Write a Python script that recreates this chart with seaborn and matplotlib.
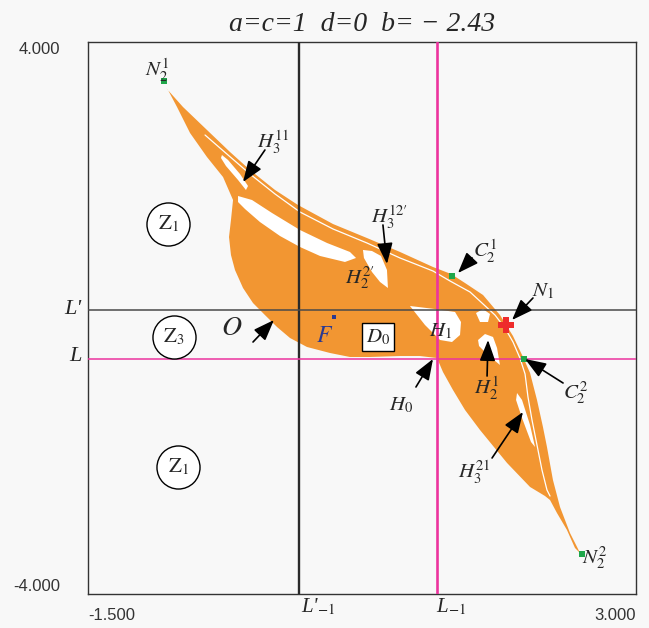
import matplotlib
matplotlib.use("Agg")
import matplotlib.pyplot as plt
import matplotlib.transforms as mtransforms
import seaborn as sns

# ---- basin of the attractor: outer boundary and its holes (x, y) ----
basin_outline = [
    (-0.859, 3.333), (-0.720, 3.058), (-0.523, 2.725), (-0.334, 2.406),
    (-0.170, 2.145), (0.036, 1.855), (0.224, 1.638), (0.512, 1.362),
    (0.791, 1.159), (1.062, 0.957), (1.333, 0.739), (1.481, 0.638),
    (1.596, 0.507), (1.744, 0.333), (1.883, 0.043), (1.990, -0.261),
    (2.072, -0.565), (2.130, -0.797), (2.187, -1.188), (2.236, -1.580),
    (2.269, -1.870), (2.318, -2.348), (2.376, -2.739), (2.458, -3.116),
    (2.516, -3.319), (2.540, -3.406),
    (2.499, -3.333), (2.433, -3.072), (2.351, -2.826), (2.294, -2.638),
    (2.253, -2.580), (2.130, -2.449), (1.941, -2.101), (1.719, -1.623),
    (1.596, -1.333), (1.497, -1.043), (1.415, -0.783), (1.366, -0.580),
    (1.226, -0.551), (1.062, -0.551), (0.816, -0.565), (0.651, -0.565),
    (0.487, -0.507), (0.298, -0.420), (0.159, -0.290), (0.052, -0.130),
    (-0.047, 0.043), (-0.145, 0.217), (-0.227, 0.435), (-0.293, 0.696),
    (-0.326, 0.913), (-0.342, 1.174), (-0.326, 1.420), (-0.309, 1.710),
    (-0.391, 2.043), (-0.523, 2.333), (-0.662, 2.681), (-0.769, 3.058),
    (-0.843, 3.304),
]
hole_H3_11 = [(-0.400, 2.362), (-0.350, 2.290), (-0.252, 2.087), (-0.186, 1.913),
              (-0.203, 1.855), (-0.268, 2.000), (-0.367, 2.203), (-0.408, 2.319)]
hole_long = [(-0.268, 1.768), (-0.153, 1.710), (0.011, 1.522), (0.241, 1.275),
             (0.463, 1.087), (0.651, 0.957), (0.701, 0.870), (0.610, 0.812),
             (0.405, 0.899), (0.241, 1.029), (0.077, 1.188), (-0.088, 1.391),
             (-0.211, 1.580), (-0.268, 1.681)]
hole_H2_2p = [(0.758, 0.986), (0.832, 0.971), (0.906, 0.899), (0.955, 0.696),
              (0.963, 0.435), (0.898, 0.522), (0.832, 0.667), (0.766, 0.870)]
hole_H1 = [(1.144, 0.174), (1.349, 0.130), (1.514, 0.087), (1.563, -0.058),
           (1.555, -0.246), (1.489, -0.348), (1.391, -0.319), (1.267, -0.101)]
hole_H2_1 = [(1.703, -0.319), (1.760, -0.232), (1.826, -0.275), (1.859, -0.435),
             (1.883, -0.681), (1.834, -0.609), (1.760, -0.493), (1.711, -0.406)]
hole_spot = [(1.686, 0.072), (1.744, 0.130), (1.801, 0.058), (1.785, -0.058),
             (1.719, -0.058)]
hole_H3_21 = [(2.023, -1.087), (2.064, -1.188), (2.130, -1.551), (2.171, -1.870),
              (2.138, -1.797), (2.064, -1.449), (2.015, -1.188)]
basin_holes = [hole_H3_11, hole_long, hole_H2_2p, hole_H1, hole_H2_1,
               hole_spot, hole_H3_21]

# thin gap separating the outer filaments from the body
gap_x = [-0.539, -0.350, -0.170, 0.036, 0.241, 0.512, 0.791, 1.062, 1.333,
         1.473, 1.637, 1.744, 1.842, 1.924, 1.990, 2.047, 2.089, 2.113,
         2.146, 2.187, 2.228, 2.269, 2.294]
gap_y = [2.652, 2.362, 2.087, 1.797, 1.536, 1.290, 1.087, 0.870, 0.681,
         0.536, 0.377, 0.203, 0.043, -0.145, -0.348, -0.580, -0.812, -1.145,
         -1.478, -1.841, -2.203, -2.493, -2.580]

# critical lines
x_Lp_m1, x_L_m1 = 0.233, 1.366      # L'_{-1}, L_{-1}
y_Lp, y_L = 0.116, -0.594           # L', L

# special points
green_x = [-0.876, 1.489, 2.080, 2.557]   # N2^1, C2^1, C2^2, N2^2
green_y = [3.435, 0.609, -0.594, -3.420]
n1_point = (1.932, -0.101)
f_point = (0.520, 0.014)

# zone markers
zone_x = [-0.843, -0.794, -0.761]
zone_y = [1.362, -0.275, -2.159]
zone_text = [r"$\mathrm{Z}_{1}$", r"$\mathrm{Z}_{3}$", r"$\mathrm{Z}_{1}$"]

# labels: text, x, y
labels = [
    (r"$N_2^1$", -0.933, 3.594),
    (r"$H_3^{11}$", 0.019, 2.551),
    (r"$H_3^{12\prime}$", 0.980, 1.464),
    (r"$H_2^{2\prime}$", 0.734, 0.580),
    (r"$C_2^1$", 1.760, 0.971),
    (r"$N_1$", 2.236, 0.391),
    (r"$H_1$", 1.391, -0.188),
    (r"$H_0$", 1.070, -1.261),
    (r"$H_2^1$", 1.777, -1.014),
    (r"$C_2^2$", 2.499, -1.087),
    (r"$H_3^{21}$", 1.670, -2.232),
    (r"$N_2^2$", 2.663, -3.478),
]
# arrows: (tail x, tail y, head x, head y)
arrows = [
    (-0.047, 2.435, -0.227, 1.971),
    (0.922, 1.348, 0.955, 0.783),
    (1.654, 0.870, 1.538, 0.652),
    (2.154, 0.290, 1.982, -0.029),
    (-0.145, -0.348, 0.027, -0.029),
    (1.193, -1.000, 1.333, -0.594),
    (1.777, -0.841, 1.785, -0.319),
    (2.401, -0.942, 2.089, -0.594),
    (1.818, -2.029, 2.072, -1.362),
]

x_ticks, x_ticklabels = [-1.5, 3.0], ["-1.500", "3.000"]
y_ticks, y_ticklabels = [-4.0, 4.0], ["-4.000", "4.000"]

ORANGE = "#F29632"
MAGENTA = "#EC349E"
BG = "#f8f8f8"
SERIF = "Liberation Serif"

sns.set_theme(style="white")
plt.rcParams["font.family"] = ["DejaVu Sans"]
plt.rcParams["mathtext.fontset"] = "stix"

fig = plt.figure(figsize=(6.49, 6.28), dpi=100, facecolor=BG)
ax = fig.add_axes([88 / 649, 34 / 628, 548 / 649, 552 / 628])
ax.set_facecolor(BG)
ax.set_xlim(-1.5, 3.0)
ax.set_ylim(-4.0, 4.0)

# basin
bx, by = zip(*basin_outline)
ax.fill(bx, by, color=ORANGE, lw=0, zorder=1)
for hole in basin_holes:
    hx, hy = zip(*hole)
    ax.fill(hx, hy, color="white", lw=0, zorder=2)
sns.lineplot(x=gap_x, y=gap_y, sort=False, estimator=None, color="white",
             lw=0.9, ax=ax, zorder=2)

# critical lines
ax.axvline(x_Lp_m1, color="#2a2a2a", lw=1.7, zorder=3)
ax.axvline(x_L_m1, color=MAGENTA, lw=1.9, zorder=3)
ax.axhline(y_Lp, color="#4a4a4a", lw=1.1, zorder=3)
ax.axhline(y_L, color=MAGENTA, lw=1.1, zorder=3)

# points
sns.scatterplot(x=green_x, y=green_y, marker="s", s=16, color="#1fa64a",
                edgecolor="none", ax=ax, zorder=5, legend=False)
sns.scatterplot(x=[n1_point[0]], y=[n1_point[1]], marker="P", s=140,
                color="#ee2b2b", edgecolor="none", ax=ax, zorder=6, legend=False)
sns.scatterplot(x=[f_point[0]], y=[f_point[1]], marker="s", s=10,
                color="#2b3990", edgecolor="none", ax=ax, zorder=5, legend=False)

# zone circles
sns.scatterplot(x=zone_x, y=zone_y, s=31 ** 2, color="white", edgecolor="black",
                linewidth=1.0, ax=ax, zorder=4, legend=False)
for t, zx, zy in zip(zone_text, zone_x, zone_y):
    ax.text(zx, zy, t, ha="center", va="center", fontsize=15, zorder=5)

# labels and arrows
for t, lx, ly in labels:
    ax.text(lx, ly, t, ha="center", va="center", fontsize=15, zorder=7)
for tx, ty, hx, hy in arrows:
    ax.annotate("", xy=(hx, hy), xytext=(tx, ty), zorder=7,
                arrowprops=dict(arrowstyle="-|>,head_length=0.8,head_width=0.3",
                                color="black", lw=1.2, mutation_scale=16,
                                shrinkA=0, shrinkB=0))
ax.text(-0.318, -0.130, r"$O$", ha="center", va="center", fontsize=20, zorder=7)
ax.text(0.446, -0.246, r"$F$", ha="center", va="center", fontsize=17,
        color="#2b3990", zorder=7)
ax.text(0.881, -0.275, r"$D_0$", ha="center", va="center", fontsize=15, zorder=7,
        bbox=dict(boxstyle="square,pad=0.2", fc="white", ec="black", lw=1.0))

# critical-line names outside the frame
tr_y = mtransforms.blended_transform_factory(ax.transAxes, ax.transData)
tr_x = mtransforms.blended_transform_factory(ax.transData, ax.transAxes)
ax.text(-0.012, y_Lp, "L'", transform=tr_y, ha="right", va="center",
        fontsize=16, family=SERIF, fontstyle="italic")
ax.text(-0.012, y_L + 0.04, "L", transform=tr_y, ha="right", va="center",
        fontsize=16, family=SERIF, fontstyle="italic")
ax.text(x_Lp_m1 + 0.02, -0.024, "L'$_{-1}$", transform=tr_x, ha="left",
        va="center", fontsize=15, family=SERIF, fontstyle="italic")
ax.text(x_L_m1 - 0.01, -0.024, "L$_{-1}$", transform=tr_x, ha="left",
        va="center", fontsize=15, family=SERIF, fontstyle="italic")

# ticks
ax.set_xticks(x_ticks)
ax.set_xticklabels(x_ticklabels, family="Liberation Sans", fontsize=12, color="#333333")
ax.set_yticks(y_ticks)
ax.set_yticklabels(y_ticklabels, family="Liberation Sans", fontsize=12, color="#333333")
ax.tick_params(axis="both", length=0)
ax.tick_params(axis="x", pad=10)
ax.tick_params(axis="y", pad=20)
xl = ax.get_xticklabels()
xl[0].set_ha("left")
xl[1].set_ha("right")
yl = ax.get_yticklabels()
yl[0].set_va("bottom")
yl[1].set_va("top")

for s in ax.spines.values():
    s.set_color("#333333")
    s.set_linewidth(1.0)

ax.set_title("a=c=1  d=0  b= \u2212 2.43", family=SERIF,
             fontstyle="italic", fontsize=20, pad=8)

fig.savefig("out.png", dpi=100, facecolor=BG)
